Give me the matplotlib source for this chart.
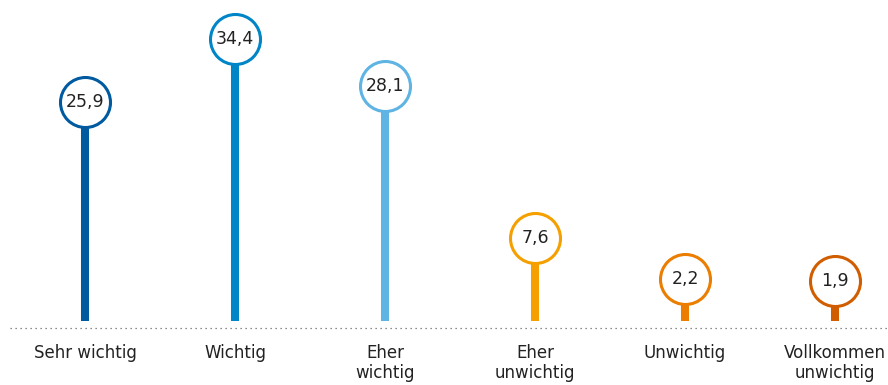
import matplotlib.pyplot as plt

categories = ["Sehr wichtig", "Wichtig", "Eher\nwichtig", "Eher\nunwichtig", "Unwichtig", "Vollkommen\nunwichtig"]
values = [25.9, 34.4, 28.1, 7.6, 2.2, 1.9]
value_labels = ["25,9", "34,4", "28,1", "7,6", "2,2", "1,9"]
colors = ["#005aa0", "#0085c7", "#5fb4e4", "#f5a000", "#eb7d00", "#d05e00"]

fig = plt.figure(figsize=(8.88, 3.85), dpi=100)
ax = fig.add_axes([0, 0, 1, 1])
ax.set_xlim(-0.567, 5.353)
ax.set_ylim(-8.6, 43.15)
ax.axis('off')

# circle radius in data units (approx 26 px)
r = 3.5
xs = list(range(len(values)))

for x, v, lab, c, cat in zip(xs, values, value_labels, colors, categories):
    ax.plot([x, x], [0, v], color=c, linewidth=5.8, solid_capstyle='butt', zorder=2)
    ax.plot(x, v + r, marker='o', markersize=36, markerfacecolor='white',
            markeredgecolor=c, markeredgewidth=2.2, zorder=3)
    ax.text(x, v + r, lab, ha='center', va='center', fontsize=12.5, color='#222222', zorder=4)
    ax.text(x, -3.1, cat, ha='center', va='top', fontsize=12, color='#222222', linespacing=1.15)

ax.plot([-0.5, 5.4], [-0.95, -0.95], color='#666666', linewidth=0.9, linestyle=(0, (1, 3)), zorder=1)

fig.savefig("out.png", dpi=100)
